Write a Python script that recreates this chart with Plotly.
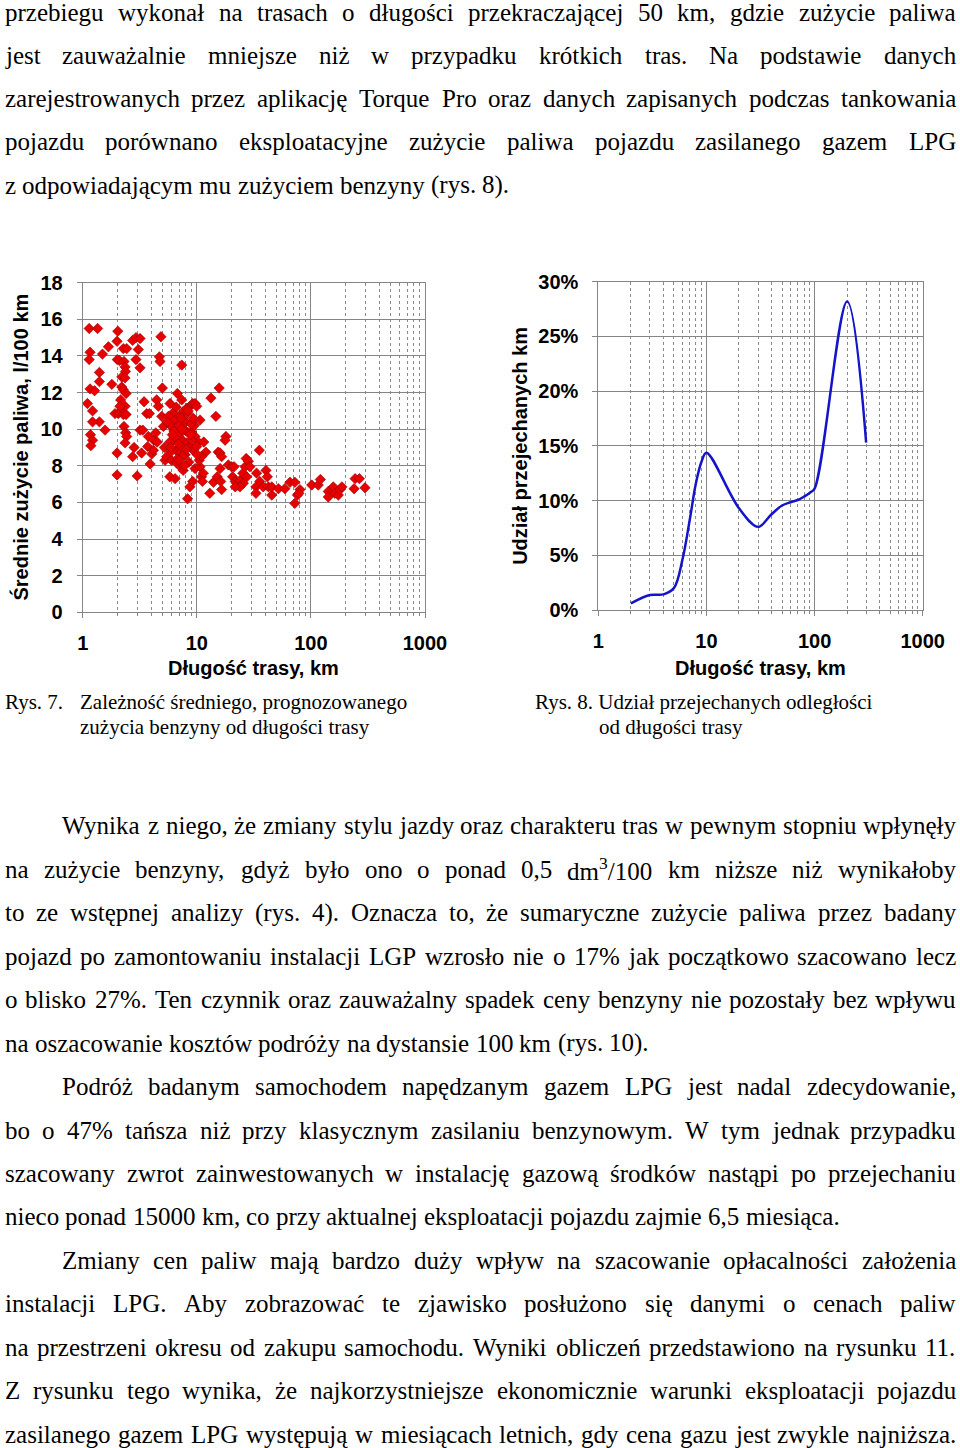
import re
import plotly.graph_objects as go

W, H = 960, 1448

# ---------------- data: Rys. 7 (scatter) ----------------
trip_km = [1.14, 1.35, 1.16, 1.14, 1.49, 1.40, 1.40, 1.16, 1.27, 1.10, 1.22, 1.40, 1.22, 1.17, 1.22, 1.18,
           1.57, 1.68, 1.80, 2.03, 2.0, 2.01, 2.1, 2.0, 2.0, 1.92, 2.05, 2.2, 2.27, 2.43, 2.3, 2.35, 2.37,
           2.2, 2.35, 2.27, 2.4, 2.35, 2.15, 2.2, 2.27, 2.4, 2.3, 2.38, 2.43, 2.35, 2.12, 2.74, 2.82, 2.74,
           2.93, 3.18, 3.07, 2.93, 3.18, 3.0, 3.18, 3.36, 3.28, 3.45, 3.64, 3.84, 3.76, 3.71, 4.03, 3.9,
           4.2, 4.45, 4.6, 4.7, 4.76, 4.85, 4.99, 4.37, 4.5, 4.17, 4.93, 5.1, 5.27, 5.44, 7.38, 6.76, 7.38,
           5.83, 6.2, 5.64, 6.45, 7.1, 7.6, 8.16, 8.7, 9.2, 9.65, 9.98, 6.0, 6.68, 7.38, 7.9, 8.45, 9.0,
           9.65, 10.3, 6.2, 6.9, 7.5, 8.16, 8.8, 9.3, 9.98, 6.58, 7.1, 7.9, 6.0, 6.68, 7.2, 7.6, 5.8, 6.45,
           8.3, 8.7, 9.2, 9.65, 10.67, 11.0, 10.5, 10.67, 11.5, 12.0, 11.0, 11.4, 11.2, 13.3, 13.0, 14.0,
           14.7, 15.7, 15.4, 16.0, 16.5, 15.1, 16.0, 16.5, 16.2, 18.0, 17.7, 18.9, 20.2, 21.2, 20.6, 21.7,
           22.7, 23.9, 25.3, 26.5, 27.1, 28.3, 29.2, 27.4, 25.6, 23.9, 21.7, 35.3, 33.4, 33.0, 33.0, 35.6,
           38.2, 40.4, 41.5, 42.4, 45.4, 45.4, 51.9, 59.1, 65.5, 72.3, 72.3, 76.2, 80.2, 78.5, 101.7, 116,
           121, 142, 142, 157, 162, 174, 180, 187, 239, 244, 266, 298,
           7.0, 7.2, 6.5, 8.0, 7.5, 6.8, 8.5, 9.0, 7.8, 6.3, 5.5, 5.2, 6.0, 8.3, 9.5, 7.3, 6.6, 5.8, 7.7, 8.8,
           6.9, 7.4, 8.1, 8.9, 6.1, 5.9, 9.3, 10.1, 7.0, 8.4]
fuel_l100 = [15.5, 15.5, 14.2, 13.8, 14.1, 13.1, 12.6, 12.2, 12.1, 11.4, 11.0, 10.4, 10.4, 9.7, 9.4, 9.1,
             9.95, 14.5, 12.45, 15.35, 14.8, 13.8, 13.75, 8.7, 7.5, 10.85, 10.85, 12.3, 14.4, 14.4, 13.7, 13.4,
             13.15, 12.85, 12.8, 12.15, 11.95, 11.25, 11.6, 10.95, 10.8, 10.8, 10.15, 9.8, 9.6, 9.25, 11.25,
             8.5, 9.0, 14.85, 15.0, 14.95, 14.35, 13.8, 13.35, 7.45, 9.95, 9.95, 8.7, 11.5, 10.85, 10.85, 9.6,
             9.05, 8.65, 8.1, 9.4, 11.6, 11.25, 13.95, 13.7, 15.05, 12.25, 9.8, 9.3, 8.85, 10.7, 10.15, 8.3,
             8.5, 13.5, 11.95, 11.6, 11.4, 10.9, 10.7, 10.5, 10.7, 10.95, 11.15, 11.25, 11.4, 11.4, 11.25,
             10.15, 10.15, 10.3, 9.95, 9.8, 9.85, 9.6, 9.3, 9.4, 9.6, 9.4, 9.25, 9.05, 8.85, 9.05, 8.85, 8.7,
             8.6, 8.3, 8.15, 7.95, 7.75, 7.4, 7.3, 6.2, 6.85, 7.15, 7.85, 7.95, 7.4, 8.3, 10.5, 9.3, 8.75, 8.5,
             7.6, 7.15, 11.7, 6.5, 7.1, 10.7, 12.25, 8.75, 8.7, 8.5, 7.4, 7.85, 6.7, 7.15, 9.6, 9.4, 8.05,
             7.95, 7.95, 7.4, 7.15, 6.95, 7.2, 7.6, 7.95, 8.4, 8.25, 7.95, 7.4, 7.05, 6.85, 6.85, 8.85, 7.6,
             6.85, 6.5, 7.15, 6.85, 7.75, 7.4, 6.85, 6.4, 6.85, 6.75, 6.75, 7.1, 7.1, 5.95, 6.4, 6.7, 6.5,
             6.95, 6.95, 7.25, 6.6, 6.3, 6.85, 6.5, 6.4, 6.7, 6.85, 6.75, 7.3, 7.3, 6.8,
             10.2, 9.8, 9.5, 10.4, 9.0, 8.4, 8.2, 9.4, 8.0, 9.9, 10.4, 9.0, 8.8, 10.9, 10.2, 10.6, 11.2, 9.3,
             8.6, 9.7, 9.2, 10.0, 8.9, 10.3, 9.7, 9.0, 10.6, 8.6, 8.3, 11.0]

# ---------------- data: Rys. 8 (line) ----------------
dist_km = [2, 3, 4, 5, 6, 7, 8, 9, 10, 20, 30, 40, 50, 60, 70, 80, 90, 100, 200, 300]
share_pct = [0.6, 1.37, 1.43, 2.0, 4.6, 8.2, 11.6, 13.55, 14.38, 9.3, 7.6, 8.75, 9.55, 9.85, 10.05,
             10.36, 10.7, 11.1, 28.2, 15.3]

x_tickvals = [1, 10, 100, 1000]
x_ticktext = ["1", "10", "100", "1000"]
y1_ticks = [0, 2, 4, 6, 8, 10, 12, 14, 16, 18]
y1_ticktext = ["0", "2", "4", "6", "8", "10", "12", "14", "16", "18"]
y2_ticks = [0, 5, 10, 15, 20, 25, 30]
y2_ticktext = ["0%", "5%", "10%", "15%", "20%", "25%", "30%"]

x_title = "Długość trasy, km"
y1_title = "Średnie zużycie paliwa, l/100 km"
y2_title = "Udział przejechanych km"

# ---------------- text ----------------
top_lines = [
    ("przebiegu wykonał na trasach o długości przekraczającej 50 km, gdzie zużycie paliwa", "j", 0),
    ("jest zauważalnie mniejsze niż w przypadku krótkich tras. Na podstawie danych", "j", 0),
    ("zarejestrowanych przez aplikację Torque Pro oraz danych zapisanych podczas tankowania", "j", 0),
    ("pojazdu porównano eksploatacyjne zużycie paliwa pojazdu zasilanego gazem LPG", "j", 0),
    ("z odpowiadającym mu zużyciem benzyny (rys. 8).", "l", 0),
]
body_lines = [
    ("Wynika z niego, że zmiany stylu jazdy oraz charakteru tras w pewnym stopniu wpłynęły", "j", 1),
    ("na zużycie benzyny, gdyż było ono o ponad 0,5 dm<sup>3</sup>/100 km niższe niż wynikałoby", "j", 0),
    ("to ze wstępnej analizy (rys. 4). Oznacza to, że sumaryczne zużycie paliwa przez badany", "j", 0),
    ("pojazd po zamontowaniu instalacji LGP wzrosło nie o 17% jak początkowo szacowano lecz", "j", 0),
    ("o blisko 27%. Ten czynnik oraz zauważalny spadek ceny benzyny nie pozostały bez wpływu", "j", 0),
    ("na oszacowanie kosztów podróży na dystansie 100 km (rys. 10).", "l", 0),
    ("Podróż badanym samochodem napędzanym gazem LPG jest nadal zdecydowanie,", "j", 1),
    ("bo o 47% tańsza niż przy klasycznym zasilaniu benzynowym. W tym jednak przypadku", "j", 0),
    ("szacowany zwrot zainwestowanych w instalację gazową środków nastąpi po przejechaniu", "j", 0),
    ("nieco ponad 15000 km, co przy aktualnej eksploatacji pojazdu zajmie 6,5 miesiąca.", "l", 0),
    ("Zmiany cen paliw mają bardzo duży wpływ na szacowanie opłacalności założenia", "j", 1),
    ("instalacji LPG. Aby zobrazować te zjawisko posłużono się danymi o cenach paliw", "j", 0),
    ("na przestrzeni okresu od zakupu samochodu. Wyniki obliczeń przedstawiono na rysunku 11.", "j", 0),
    ("Z rysunku tego wynika, że najkorzystniejsze ekonomicznie warunki eksploatacji pojazdu", "j", 0),
    ("zasilanego gazem LPG występują w miesiącach letnich, gdy cena gazu jest zwykle najniższa.", "j", 0),
]
captions = [
    ("Rys. 7.", 4, 702), ("Zależność średniego, prognozowanego", 79, 702),
    ("zużycia benzyny od długości trasy", 79, 727),
    ("Rys. 8. Udział przejechanych odległości", 534, 702), ("od długości trasy", 598, 727),
]

# Times New Roman (= Liberation Serif) advance widths, 1/1000 em
TNR = {' ': 250, '.': 250, ',': 250, '(': 333, ')': 333, '%': 833, '/': 278, ':': 278, ';': 278, '-': 333}
TNR.update(dict(zip("abcdefghijklmnopqrstuvwxyz",
                    [444, 500, 444, 500, 444, 333, 500, 500, 278, 278, 500, 278, 778, 500, 500, 500, 500,
                     333, 389, 278, 500, 500, 722, 500, 500, 444])))
TNR.update(dict(zip("ABCDEFGHIJKLMNOPQRSTUVWXYZ",
                    [722, 667, 667, 722, 611, 556, 722, 722, 333, 389, 722, 611, 889, 722, 722, 556, 722,
                     667, 556, 611, 722, 722, 944, 722, 722, 611])))
TNR.update({d: 500 for d in "0123456789"})
TNR.update({'ą': 444, 'ę': 444, 'ć': 444, 'ł': 278, 'ń': 500, 'ó': 500, 'ś': 389, 'ź': 444, 'ż': 444,
            'Ł': 611, 'Ś': 556, 'Ż': 611, 'Ź': 611, 'Ć': 667, 'Ó': 722})


def word_width(word, size):
    total = 0.0
    for p in re.split(r"(<sup>.*?</sup>)", word):
        if p.startswith("<sup>"):
            total += sum(TNR.get(c, 500) for c in p[5:-6]) * 0.7
        else:
            total += sum(TNR.get(c, 500) for c in p)
    return total * size / 1000.0


annotations = []
BODY_FONT = dict(family="Liberation Serif", size=25, color="black")
LEFT, RIGHT, INDENT = 4, 955, 61


def add_line(text, mode, indent, ycenter, font):
    words = [w for w in text.split(" ") if w]
    size = font["size"]
    left = INDENT if indent else LEFT
    widths = [word_width(w, size) for w in words]
    if mode == "j" and len(words) > 1:
        gap = (RIGHT - left - sum(widths)) / (len(words) - 1)
    else:
        gap = TNR[' '] * size / 1000.0
    x = left
    for w, wd in zip(words, widths):
        annotations.append(dict(text=w, x=x / W, y=1 - ycenter / H, xref="paper", yref="paper",
                                xanchor="left", yanchor="middle", showarrow=False, font=font,
                                borderpad=0))
        x += wd + gap


for i, (t, m, ind) in enumerate(top_lines):
    add_line(t, m, ind, 12 + 43.3 * i, BODY_FONT)
for i, (t, m, ind) in enumerate(body_lines):
    add_line(t, m, ind, 826 + 43.43 * i, BODY_FONT)

CAP_FONT = dict(family="Liberation Serif", size=21, color="black")
for t, x, y in captions:
    annotations.append(dict(text=t, x=x / W, y=1 - y / H, xref="paper", yref="paper", xanchor="left",
                            yanchor="middle", showarrow=False, font=CAP_FONT, borderpad=0))

# ---------------- chart geometry ----------------
P1 = dict(x0=82.7, x1=425.0, y0=282.7, y1=612.3)
P2 = dict(x0=598.3, x1=922.7, y0=281.7, y1=610.0)

AX_FONT = dict(family="Liberation Sans", size=20, color="black", weight="bold")
TICK_FONT = dict(family="Liberation Sans", size=20, color="black", weight="bold")
GRID = "#858585"
MINOR = "#8a8a8a"


def xaxis_cfg(p):
    return dict(type="log", range=[0, 3], domain=[p["x0"] / W, p["x1"] / W],
                tickmode="array", tickvals=x_tickvals, ticktext=x_ticktext, tickfont=TICK_FONT,
                showgrid=True, gridcolor=GRID, gridwidth=1, zeroline=False,
                showline=True, linecolor=GRID, linewidth=1, mirror=True,
                ticks="outside", ticklen=5, tickcolor=GRID, ticklabelstandoff=8,
                minor=dict(dtick="D1", showgrid=True, gridcolor=MINOR, griddash="dot", gridwidth=1,
                           ticks="outside", ticklen=3, tickcolor=GRID))


def yaxis_cfg(p, rng, vals, texts):
    return dict(range=rng, domain=[1 - p["y1"] / H, 1 - p["y0"] / H], tickmode="array",
                tickvals=vals, ticktext=texts, tickfont=TICK_FONT, showgrid=True, gridcolor=GRID,
                gridwidth=1, zeroline=False, showline=True, linecolor=GRID, linewidth=1, mirror=True,
                ticks="outside", ticklen=5, tickcolor=GRID, ticklabelstandoff=10)


fig = go.Figure()
fig.add_trace(go.Scatter(x=trip_km, y=fuel_l100, mode="markers", xaxis="x", yaxis="y",
                         marker=dict(symbol="diamond", size=8, color="rgb(232,0,0)",
                                     line=dict(color="rgb(150,0,0)", width=0.6)),
                         showlegend=False))
fig.add_trace(go.Scatter(x=dist_km, y=share_pct, mode="lines", xaxis="x2", yaxis="y2",
                         line=dict(color="rgb(20,20,200)", width=2.5, shape="spline", smoothing=1),
                         showlegend=False))

for p, title, xc in ((P1, y1_title, 20), (P2, y2_title, 520)):
    annotations.append(dict(text=title, x=xc / W, y=1 - ((p["y0"] + p["y1"]) / 2) / H, xref="paper",
                            yref="paper", xanchor="center", yanchor="middle", textangle=-90,
                            showarrow=False, font=AX_FONT, borderpad=0))
    annotations.append(dict(text=x_title, x=((p["x0"] + p["x1"]) / 2) / W, y=1 - 668 / H, xref="paper",
                            yref="paper", xanchor="center", yanchor="middle", showarrow=False,
                            font=AX_FONT, borderpad=0))

fig.update_layout(
    width=W, height=H, margin=dict(l=0, r=0, t=0, b=0, pad=0, autoexpand=False), autosize=False,
    paper_bgcolor="white", plot_bgcolor="white", showlegend=False,
    xaxis=xaxis_cfg(P1), yaxis=yaxis_cfg(P1, [0, 18], y1_ticks, y1_ticktext),
    xaxis2=xaxis_cfg(P2), yaxis2=yaxis_cfg(P2, [0, 30], y2_ticks, y2_ticktext),
    annotations=annotations,
)
fig.update_layout(xaxis2=dict(anchor="y2"), yaxis2=dict(anchor="x2"))

fig.write_html("out.html", config={"displayModeBar": False},
               post_script="document.body.style.margin='0';document.body.style.padding='0';"
                           "document.body.style.overflow='hidden';")
